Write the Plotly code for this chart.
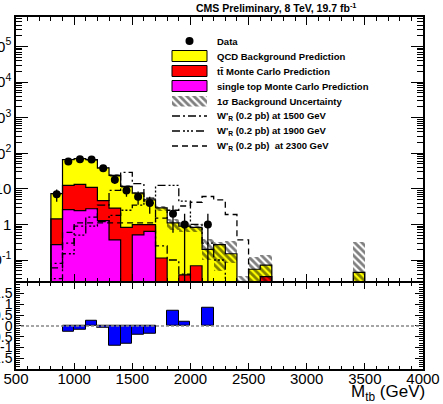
import numpy as np
import plotly.graph_objects as go

# ---------------- data ----------------
bin_edges = [800, 900, 1000, 1100, 1200, 1300, 1400, 1500, 1600, 1700, 1800, 1900, 2000,
             2100, 2200, 2300, 2400, 2500, 2600, 2700, 2800, 2900, 3000, 3100, 3200, 3300,
             3400, 3500]

single_top = [0.27, 2.6, 2.45, 2.76, 1.28, 0.37, 0, 0.51, 0.64, 0, 0, 0, 0, 0,
              0, 0, 0, 0, 0, 0, 0, 0, 0, 0, 0, 0, 0]
ttbar = [1.17, 9.9, 10.85, 8.2, 3.4, 2.5, 0.83, 0.48, 0.35, 0.114, 0, 0.038, 0.069, 0,
         0, 0, 0, 0, 0.034, 0, 0, 0, 0, 0, 0, 0, 0]
qcd = [5.9, 53.5, 57.7, 55, 34.3, 21.1, 10.9, 6.6, 3.9, 2.8, 1.1, 0.86, 0.76, 0.2,
       0.27, 0.15, 0, 0.055, 0.038, 0, 0, 0, 0, 0, 0, 0, 0.045]
bkg_unc_up = [0.4, 3, 3.5, 3.5, 2.5, 2, 1.2, 0.8, 0.6, 0.4, 0.33, 0.25, 0.23, 0.19,
              0.05, 0.2, 0.035, 0.065, 0.07, 0, 0, 0, 0, 0, 0, 0, 0.27]
bkg_unc_dn = [0.4, 3, 3.5, 3.5, 2.5, 2, 1.2, 0.8, 0.6, 0.5, 0.42, 0.3, 0.23, 0.1,
              0.22, 0.07, 0, 0.055, 0.072, 0, 0, 0, 0, 0, 0, 0, 0.045]
data_counts = [7, 59, 68, 67, 38, 18, 9, 6, 4, 0, 2, 1, 0, 1,
               0, 0, 0, 0, 0, 0, 0, 0, 0, 0, 0, 0, 0]
w1500 = [0.08, 0.3, 0.9, 1.6, 3.5, 9, 29, 14, 4, 0.25, 0.1, 0.04, 0, 0,
         0, 0, 0, 0, 0, 0, 0, 0, 0, 0, 0, 0, 0]
w1900 = [0.03, 0.15, 0.5, 0.9, 1.2, 1.8, 2.5, 3.5, 5.5, 12.5, 12.5, 4.5, 1.0, 0.3,
         0.1, 0, 0, 0, 0, 0, 0, 0, 0, 0, 0, 0, 0]
w2300 = [0.06, 0.6, 1.1, 1.1, 1.1, 1.1, 1.1, 1.1, 1.1, 1.5, 2.5, 3.3, 4.2, 6.1,
         4.9, 1.9, 0.37, 0, 0, 0, 0, 0, 0, 0, 0, 0, 0]
pull = [0, -0.28, -0.2, 0.26, -0.08, -0.94, -0.82, -0.4, -0.35, 0, 0.68, 0.19, 0, 0.85,
        0, 0, 0, 0, 0, 0, 0, 0, 0, 0, 0, 0, 0]

x_tick_vals = [500, 1000, 1500, 2000, 2500, 3000, 3500, 4000]
y_tick_vals = [1e-1, 1, 10, 1e2, 1e3, 1e4, 1e5]
y_tick_text = ["10<sup>-1</sup>", "1", "10", "10<sup>2</sup>", "10<sup>3</sup>",
               "10<sup>4</sup>", "10<sup>5</sup>"]
r_tick_vals = [-1.5, -1, -0.5, 0, 0.5, 1, 1.5]
r_tick_text = ["-1.5", "-1", "-0.5", "0", "0.5", "1", "1.5"]

# ---------------- derived ----------------
edges = np.array(bin_edges, dtype=float)
centers = 0.5 * (edges[:-1] + edges[1:])
widths = np.diff(edges)
st = np.array(single_top)
top_red = st + np.array(ttbar)
total = top_red + np.array(qcd)
FLOOR = 1e-4


def step_xy(vals):
    xs, ys = [edges[0]], [FLOOR]
    for i, v in enumerate(vals):
        v = v if v > 0 else FLOOR
        xs += [edges[i], edges[i + 1]]
        ys += [v, v]
    xs.append(edges[-1]); ys.append(FLOOR)
    return xs, ys


def nz(vals):
    return [v if v > 0 else None for v in vals]


FONT = "Liberation Sans, Arial, Helvetica, sans-serif"
HATCH = dict(shape="\\", fgcolor="black", bgcolor="rgba(0,0,0,0)", size=5, solidity=0.55)
fig = go.Figure()

# stacked backgrounds (filled)
for vals, col in [(total, "#ffff00"), (top_red, "#ff0000"), (st, "#ff00ff")]:
    fig.add_trace(go.Bar(x=centers, y=nz(vals), width=widths, marker_color=col,
                         marker_line_width=0, xaxis="x", yaxis="y"))

# uncertainty band (hatched)
lo = np.maximum(total - np.array(bkg_unc_dn), FLOOR)
hi = total + np.array(bkg_unc_up)
band_h = [h - l if h > l + 1e-9 and h > FLOOR * 2 else None for h, l in zip(hi, lo)]
fig.add_trace(go.Bar(x=centers, y=band_h, base=lo, width=widths,
                     marker=dict(color="rgba(0,0,0,0)", line_width=0, pattern=HATCH),
                     xaxis="x", yaxis="y"))

# outlines of stacked histograms
for vals in [total, top_red, st]:
    xs, ys = step_xy(vals)
    fig.add_trace(go.Scatter(x=xs, y=ys, mode="lines", line=dict(color="black", width=1.2),
                             xaxis="x", yaxis="y"))

# signals
DASH_1500 = "8px,3px,2px,3px"
DASH_1900 = "8px,3px,2px,2px,2px,2px,2px,3px"
DASH_2300 = "6px,4px"
for vals, dash in [(w1500, DASH_1500), (w1900, DASH_1900), (w2300, DASH_2300)]:
    xs, ys = step_xy(vals)
    fig.add_trace(go.Scatter(x=xs, y=ys, mode="lines",
                             line=dict(color="black", width=1.3, dash=dash),
                             xaxis="x", yaxis="y"))

# data
dc = np.array(data_counts, dtype=float)
mask = dc > 0
err = np.sqrt(dc[mask])
err_dn = np.minimum(err, dc[mask] - FLOOR)
fig.add_trace(go.Scatter(x=centers[mask], y=dc[mask], mode="markers",
                         marker=dict(color="black", size=8),
                         error_y=dict(type="data", array=err, arrayminus=err_dn,
                                      color="black", thickness=1.3, width=0),
                         xaxis="x", yaxis="y"))

# pull panel
fig.add_trace(go.Bar(x=centers, y=[v if v != 0 else None for v in pull], width=widths,
                     marker=dict(color="#0000ff", line=dict(color="black", width=1)),
                     xaxis="x2", yaxis="y2"))

# ---------------- layout ----------------
L, R, T, B = 16, 20, 17, 35
W, H = 443, 404
pw, ph = W - L - R, H - T - B


def px2paper(px, py):
    return (px - L) / pw, (H - B - py) / ph


minor_log = [m * 10.0 ** e for e in range(-2, 6) for m in range(2, 10)]
axis_common = dict(showline=True, linecolor="black", linewidth=1.5, mirror="allticks",
                   showgrid=False, zeroline=False, ticks="inside", tickcolor="black",
                   tickwidth=1, automargin=False)

fig.update_layout(
    width=W, height=H, margin=dict(l=L, r=R, t=T, b=B, autoexpand=False),
    paper_bgcolor="white", plot_bgcolor="rgba(0,0,0,0)",
    showlegend=False, barmode="overlay", bargap=0,
    font=dict(family=FONT, color="black"),
    xaxis=dict(domain=[0, 1], anchor="y", range=[500, 4000], showticklabels=False,
               tickmode="array", tickvals=x_tick_vals, ticklen=8,
               minor=dict(dtick=100, tick0=500, ticks="inside", ticklen=4, tickcolor="black"),
               **axis_common),
    yaxis=dict(domain=[0.249, 1], anchor="x", type="log", range=[-1.6, 5.83],
               tickmode="array", tickvals=y_tick_vals, ticktext=y_tick_text, ticklen=12,
               tickfont=dict(size=15, family=FONT), ticklabelstandoff=0,
               minor=dict(tickmode="array", tickvals=minor_log, ticks="inside", ticklen=6,
                          tickcolor="black"),
               **axis_common),
    xaxis2=dict(domain=[0, 1], anchor="y2", range=[500, 4000],
                tickmode="array", tickvals=x_tick_vals, ticklen=6,
                tickfont=dict(size=15, family=FONT), ticklabelstandoff=-5,
                minor=dict(dtick=100, tick0=500, ticks="inside", ticklen=3, tickcolor="black"),
                **axis_common),
    yaxis2=dict(domain=[0, 0.245], anchor="x2", range=[-2, 2],
                tickmode="array", tickvals=r_tick_vals, ticktext=r_tick_text, ticklen=8,
                tickfont=dict(size=14, family=FONT), ticklabelstandoff=-1,
                minor=dict(dtick=0.1, tick0=0, ticks="inside", ticklen=4, tickcolor="black"),
                **axis_common),
)

# zero line in pull panel
fig.add_shape(type="line", xref="x2 domain", yref="y2", x0=0, x1=1, y0=0, y1=0,
              line=dict(color="#888888", width=1.5, dash="3px,2px"))

# title & axis title
tx, ty = px2paper(358, 8)
fig.add_annotation(xref="paper", yref="paper", x=tx, y=ty, xanchor="right", yanchor="middle",
                   text="<b>CMS Preliminary, 8 TeV, 19.7 fb<sup>-1</sup></b>", showarrow=False,
                   font=dict(size=10.5, family=FONT))
ax_x, ax_y = px2paper(427, 393)
fig.add_annotation(xref="paper", yref="paper", x=ax_x, y=ax_y, xanchor="right", yanchor="middle",
                   text="M<sub>tb</sub> (GeV)", showarrow=False, font=dict(size=17, family=FONT))

# ---------------- legend (drawn by hand, ROOT style) ----------------
sym_x0, sym_x1, text_x = 172, 207, 215
rows = {"data": 41, "qcd": 56, "tt": 71, "st": 86, "unc": 101, "w15": 116, "w19": 131, "w23": 146}
labels = {
    "data": "Data",
    "qcd": "QCD Background Prediction",
    "tt": "tt\u0304 Monte Carlo Prediction",
    "st": "single top Monte Carlo Prediction",
    "unc": "1\u03c3 Background Uncertainty",
    "w15": "W'<sub>R</sub> (0.2 pb) at 1500 GeV",
    "w19": "W'<sub>R</sub> (0.2 pb) at 1900 GeV",
    "w23": "W'<sub>R</sub> (0.2 pb)  at 2300 GeV",
}
for key, py in rows.items():
    x, y = px2paper(text_x, py)
    fig.add_annotation(xref="paper", yref="paper", x=x, y=y, xanchor="left", yanchor="middle",
                       text="<b>" + labels[key] + "</b>", showarrow=False,
                       font=dict(size=9.5, family=FONT))

for key, col in [("qcd", "#ffff00"), ("tt", "#ff0000"), ("st", "#ff00ff")]:
    x0, y0 = px2paper(sym_x0, rows[key] + 5.5)
    x1, y1 = px2paper(sym_x1, rows[key] - 5.5)
    fig.add_shape(type="rect", xref="paper", yref="paper", x0=x0, x1=x1, y0=y0, y1=y1,
                  fillcolor=col, line=dict(color="black", width=1))

for key, dash in [("w15", DASH_1500), ("w19", DASH_1900), ("w23", DASH_2300)]:
    x0, y0 = px2paper(sym_x0, rows[key])
    x1, _ = px2paper(sym_x1, rows[key])
    fig.add_shape(type="line", xref="paper", yref="paper", x0=x0, x1=x1, y0=y0, y1=y0,
                  line=dict(color="black", width=1.3, dash=dash))

# data marker in legend
dx, dy = px2paper((sym_x0 + sym_x1) / 2, rows["data"])
fig.add_trace(go.Scatter(x=[dx], y=[dy], mode="markers", marker=dict(color="black", size=8),
                         xaxis="x3", yaxis="y3"))
# hatched legend symbol
hx0, hy0 = px2paper(sym_x0, rows["unc"] + 5.5)
hx1, hy1 = px2paper(sym_x1, rows["unc"] - 5.5)
fig.add_trace(go.Bar(x=[0.5], y=[1], width=[1],
                     marker=dict(color="rgba(0,0,0,0)", line_width=0, pattern=HATCH),
                     xaxis="x4", yaxis="y4"))
fig.update_layout(
    xaxis3=dict(domain=[0, 1], range=[0, 1], visible=False, anchor="y3", fixedrange=True,
                automargin=False),
    yaxis3=dict(domain=[0, 1], range=[0, 1], visible=False, anchor="x3", fixedrange=True,
                automargin=False),
    xaxis4=dict(domain=[hx0, hx1], range=[0, 1], visible=False, anchor="y4", automargin=False),
    yaxis4=dict(domain=[hy0, hy1], range=[0, 1], visible=False, anchor="x4", automargin=False),
)

fig.write_html("out.html")
